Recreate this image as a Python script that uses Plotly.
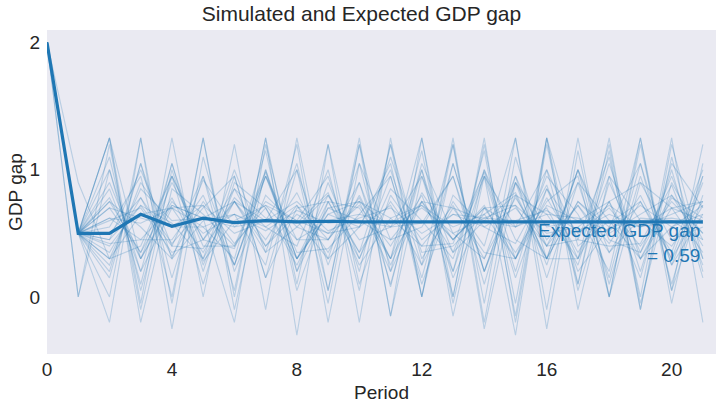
import plotly.graph_objects as go

periods = list(range(22))

expected = [2.0, 0.5, 0.5, 0.65, 0.555, 0.62, 0.585, 0.60, 0.59, 0.595, 0.59, 0.592,
            0.59, 0.591, 0.59, 0.59, 0.59, 0.59, 0.59, 0.59, 0.59, 0.59]

sim_paths = [
    [2, .5, 1.25, -.05, 1.25, .0, 1.2, -.1, 1.25, .05, 1.2, -.15, 1.25, 0, 1.2, -.05, 1.25, .1, 1.15, -.1, 1.2, .3],
    [2, .5, -.2, 1.25, -.05, 1.25, 0, 1.25, .1, 1.2, -.2, 1.25, 0, 1.2, -.05, 1.25, -.1, 1.25, 0, 1.25, .05, 1.2],
    [2, .5, .75, .35, .78, .3, .75, .4, .72, .35, .8, .3, .75, .45, .72, .3, .78, .35, .75, .3, .7, .75],
    [2, .5, .35, .78, .32, .75, .42, .7, .3, .8, .35, .75, .4, .72, .3, .78, .4, .72, .35, .75, .3, .72],
    [2, 0.0, 1.0, .1, 1.05, .2, .95, .15, 1.0, .25, .9, .1, 1.0, .2, .95, .15, .85, .3, .95, .2, 1.0, .15],
    [2, .5, .2, 1.05, .15, .95, .25, 1.0, .2, .9, .3, .95, .15, 1.05, .2, .9, .25, 1.0, .1, .95, .25, .9],
    [2, .5, .62, .58, .7, .55, .65, .52, .68, .58, .6, .55, .7, .5, .62, .6, .68, .52, .65, .55, .7, .6],
    [2, .5, 1.25, .3, .9, .45, .75, .6, .6, .95, .2, 1.2, .0, 1.25, -.2, 1.1, .3, .75, .5, .65, .8, .4],
    [2, .5, .45, .72, .4, .95, .05, 1.25, -.3, 1.2, .1, .8, .45, .65, .55, .7, .4, .9, .15, 1.05, .1, .95],
    [2, .9, .3, .85, .6, .62, .75, .35, 1.05, 0.05, 1.25, -.15, .95, .35, .6, .8, .3, .75, .55, .6, .62, .58],
    [2, .5, .0, 1.25, -.25, 1.1, .2, .8, .55, .45, .78, .3, 1.0, .0, 1.25, -.2, 1.2, .05, .9, .35, .8, .5],
    [2, .5, .9, .3, .75, .5, .65, .55, .72, .45, .75, .2, 1.15, -.05, 1.0, .3, .72, .6, .58, .75, .35, 1.0],
    [2, .5, .3, .65, .7, .35, .78, .55, .4, 1.0, .05, 1.2, .3, .7, .6, .55, 1.0, .1, 1.25, -.1, 1.1, .2],
    [2, .5, .55, .95, .0, 1.25, -.1, 1.0, .3, .65, .55, 1.0, .25, .75, .4, 1.25, -.25, 1.15, .0, 1.2, .05, .8],
    [2, .5, 1.1, .05, .95, .4, .4, .98, .3, .65, .75, .55, .58, .95, .1, .95, .4, .45, 1.1, .0, 1.25, -.2],
    [2, 0.0, 1.2, -.1, 1.0, .25, .85, .4, .65, .5, .55, 1.05, .0, 1.05, .2, .9, .45, .72, .42, .8, .3, .95],
    [2, .5, .62, .45, .45, .8, .25, .95, .3, .7, .75, .62, .4, .42, .98, .2, 1.0, .45, .4, .42, .88, .25],
    [2, .5, .25, .9, .55, .55, .3, 1.15, .05, .75, .7, .3, 1.25, -.15, .95, .55, .7, .25, 1.05, .3, .55, .72],
    [2, .5, .75, .55, .3, .92, .55, .6, 1.0, -.05, 1.2, .2, .75, .7, .35, .3, .95, .65, .2, 1.25, -.05, 1.05],
    [2, .5, .42, .45, .72, .62, .55, .72, .45, .6, .65, .58, .72, .45, .7, .55, .65, .62, .52, .72, .55, .65],
    [2, .5, .7, .62, .55, .72, .5, .6, .75, .52, .62, .7, .5, .65, .62, .72, .5, .55, .72, .55, .6, .58],
    [2, .5, 1.0, .2, .7, .72, .25, .95, .45, .45, .9, .25, .82, .45, .7, .35, .75, .95, .0, .9, .45, .55],
    [2, .5, .3, .4, .95, .1, .9, .7, .25, .75, .35, 1.1, .35, .4, .65, .82, .3, .3, .75, .9, .7, .35],
    [2, .5, .5, .78, .42, .7, .95, .15, .7, .75, .3, .85, .6, .3, 1.0, .45, .3, 1.0, .45, .35, .95, .3],
    [2, .5, .85, .2, 1.05, .28, .6, .72, .6, .3, 1.05, .08, 1.05, .5, .3, .95, .15, .9, .6, .55, .65, .75],
    [2, .5, .6, .7, .35, .45, .85, .62, .58, .82, .25, .62, .72, .55, .65, .3, .85, .5, .7, .4, .75, .5],
    [2, .5, .15, 1.05, .3, .6, .65, .25, 1.2, -.2, 1.05, .45, .55, .95, .2, .8, .65, .3, 1.2, -.05, .9, .45],
    [2, .5, 1.25, -.2, .85, .65, .4, .75, .6, .5, .72, .4, .8, .2, 1.15, -.15, 1.25, -.1, .95, .6, .4, .75],
    [2, .5, .4, .72, .58, .3, 1.0, .35, .55, .8, .45, .55, .95, .15, .7, .72, .3, 1.0, .35, .62, .6, .45],
    [2, .5, .7, .35, .95, .45, .38, .95, .35, .38, .65, .95, .1, .8, .55, .42, .88, .2, .55, 1.05, .25, .65],
    [2, .5, .78, .3, .72, .62, -.2, 1.2, .2, .7, .6, .45, .75, .35, .95, -.3, 1.25, .4, .6, .3, .78, .62],
    [2, .5, .45, 1.0, .4, .38, .75, .45, .82, .3, .55, .72, .25, 1.2, -.25, .9, .55, .6, .75, .15, 1.05, .7],
]

x_ticks = [0, 4, 8, 12, 16, 20]
y_ticks = [0, 1, 2]

BLUE = "#1f77b4"
TXT = "#262626"
FONT = "Liberation Sans, Arial, sans-serif"

fig = go.Figure()
for path in sim_paths:
    fig.add_trace(go.Scatter(x=periods, y=path, mode="lines",
                             line=dict(color="rgba(31,119,180,0.24)", width=1.1),
                             hoverinfo="skip", showlegend=False))
fig.add_trace(go.Scatter(x=periods, y=expected, mode="lines",
                         line=dict(color=BLUE, width=3.2), hoverinfo="skip",
                         showlegend=False))

fig.add_annotation(x=21, y=expected[-1], xref="x", yref="y",
                   text="Expected GDP gap<br>= 0.59", showarrow=False,
                   xanchor="right", yanchor="top", align="right", yshift=4, xshift=-1,
                   font=dict(family=FONT, size=19, color=BLUE))

fig.update_layout(
    width=723, height=409,
    margin=dict(l=47, r=7, t=30, b=55, autoexpand=False),
    paper_bgcolor="white", plot_bgcolor="#EAEAF2",
    hovermode=False,
    title=dict(text="Simulated and Expected GDP gap", x=0.5, xanchor="center",
               xref="container", yref="container", y=0.966, yanchor="middle",
               font=dict(family=FONT, size=21, color=TXT)),
    font=dict(family=FONT, color=TXT),
)
fig.update_xaxes(range=[0, 21.42], tickvals=x_ticks, ticktext=[str(v) for v in x_ticks],
                 showgrid=False, zeroline=False, showline=False,
                 ticks="outside", ticklen=0, tickcolor="rgba(0,0,0,0)", automargin=False,
                 ticklabelstandoff=-2,
                 tickfont=dict(size=19, color=TXT),
                 title=dict(text="Period", font=dict(size=19, color=TXT), standoff=6))
fig.update_yaxes(range=[-0.448, 2.098], tickvals=y_ticks, ticktext=[str(v) for v in y_ticks],
                 showgrid=False, zeroline=False, showline=False,
                 ticks="outside", ticklen=2, tickcolor="rgba(0,0,0,0)", automargin=False,
                 tickfont=dict(size=19, color=TXT),
                 title=dict(text="GDP gap", font=dict(size=19, color=TXT), standoff=1))

fig.write_html("out.html", config={"displayModeBar": False},
               post_script="document.body.style.margin='0px';")
